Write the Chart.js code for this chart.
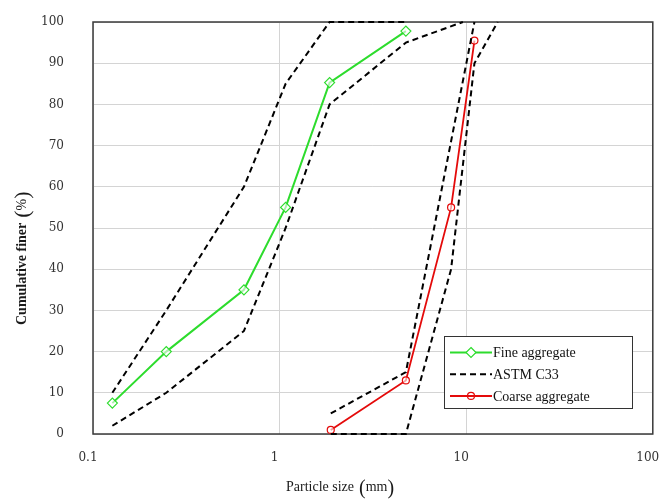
<!DOCTYPE html>
<html>
<head>
<meta charset="utf-8">
<script src="https://cdn.jsdelivr.net/npm/chart.js@4"></script>
<style>
  body { margin: 0; background: #fff; }
</style>
</head>
<body>
<canvas id="myChart" width="659" height="502"></canvas>
<script>
// sieve sizes (mm) and cumulative passing (%)
let fine_sizes = [0.127, 0.247, 0.644, 1.077, 1.853, 4.75]
let fine_passing = [7.5, 20, 35, 55, 85.3, 97.8]

let coarse_sizes = [1.88, 4.75, 8.3, 11.07]
let coarse_passing = [1, 13, 55, 95.5]

// ASTM C33 grading limits
let astm_fine_upper_sizes = [0.127, 0.247, 0.644, 1.077, 1.853, 4.75]
let astm_fine_upper = [10, 30, 60, 85, 100, 100]
let astm_fine_lower_sizes = [0.127, 0.247, 0.644, 1.077, 1.853, 4.75, 9.6]
let astm_fine_lower = [2, 10, 25, 50, 80, 95, 100]
let astm_coarse_upper_sizes = [1.88, 4.75, 11.07]
let astm_coarse_upper = [5, 15, 100]
let astm_coarse_lower_sizes = [1.88, 4.75, 8.3, 11.07, 14.76]
let astm_coarse_lower = [0, 0, 40, 90, 100]

let x_ticks = [0.1, 1, 10, 100]
let y_ticks = [0, 10, 20, 30, 40, 50, 60, 70, 80, 90, 100]

let green = 'rgb(45, 220, 45)'
let red = 'rgb(228, 10, 10)'

function pontos(xs, ys) {
    return xs.map((x, i) => ({ x: x, y: ys[i] }))
}

function astm(xs, ys) {
    return {
        label: 'ASTM C33',
        data: pontos(xs, ys),
        borderColor: '#000',
        borderWidth: 2,
        borderDash: [6, 4],
        pointRadius: 0,
        fill: false,
        clip: false
    }
}

// plot frame drawn under the lines
const moldura = {
    id: 'moldura',
    beforeDatasetsDraw(chart) {
        const a = chart.chartArea
        const c = chart.ctx
        c.save()
        c.strokeStyle = '#3a3a3a'
        c.lineWidth = 1.5
        c.strokeRect(a.left, a.top, a.right - a.left, a.bottom - a.top)
        c.restore()
    }
}

// axis titles with tall brackets
function texto_com_parenteses(c, antes, dentro, tam, tam_par, negrito) {
    let x = 0
    c.font = (negrito ? 'bold ' : '') + tam + 'px "Liberation Serif"'
    c.fillText(antes, x, 0)
    x += c.measureText(antes).width + 5
    c.font = tam_par + 'px "Liberation Serif"'
    c.fillText('(', x, 3)
    x += c.measureText('(').width
    c.font = tam + 'px "Liberation Serif"'
    c.fillText(dentro, x, 0)
    x += c.measureText(dentro).width
    c.font = tam_par + 'px "Liberation Serif"'
    c.fillText(')', x, 3)
}

const titulos = {
    id: 'titulos',
    afterDraw(chart) {
        const c = chart.ctx
        c.save()
        c.fillStyle = '#1a1a1a'
        c.textBaseline = 'alphabetic'
        c.textAlign = 'left'

        c.save()
        c.translate(286, 491)
        texto_com_parenteses(c, 'Particle size', 'mm', 14, 20, false)
        c.restore()

        c.save()
        c.translate(26, 325)
        c.rotate(-Math.PI / 2)
        texto_com_parenteses(c, 'Cumulative finer', '%', 14, 22, true)
        c.restore()

        c.restore()
    }
}

const legenda = {
    id: 'legenda',
    afterDraw(chart) {
        const c = chart.ctx
        const itens = [
            { text: 'Fine aggregate', color: green, dash: [], marker: 'diamond' },
            { text: 'ASTM C33', color: '#000', dash: [6, 4], marker: null },
            { text: 'Coarse aggregate', color: red, dash: [], marker: 'circle' }
        ]
        c.save()
        c.fillStyle = '#fff'
        c.fillRect(444.5, 336.5, 188, 72)
        c.strokeStyle = '#333'
        c.lineWidth = 1
        c.strokeRect(444.5, 336.5, 188, 72)
        itens.forEach((it, i) => {
            const y = 352.5 + i * 21.7
            c.strokeStyle = it.color
            c.lineWidth = 2
            c.setLineDash(it.dash)
            c.beginPath()
            c.moveTo(450, y)
            c.lineTo(492, y)
            c.stroke()
            c.setLineDash([])
            c.lineWidth = 1.2
            if (it.marker == 'diamond') {
                c.beginPath()
                c.moveTo(471, y - 5)
                c.lineTo(476, y)
                c.lineTo(471, y + 5)
                c.lineTo(466, y)
                c.closePath()
                c.fillStyle = '#fff'
                c.fill()
                c.stroke()
            }
            if (it.marker == 'circle') {
                c.beginPath()
                c.arc(471, y, 3.5, 0, Math.PI * 2)
                c.stroke()
            }
            c.fillStyle = '#111'
            c.font = '14px "Liberation Serif"'
            c.textBaseline = 'middle'
            c.fillText(it.text, 493, y + 1)
        })
        c.restore()
    }
}

const ctx = document.getElementById('myChart').getContext('2d')
const myChart = new Chart(ctx, {
    type: 'line',
    data: {
        datasets: [
            {
                label: 'Fine aggregate',
                data: pontos(fine_sizes, fine_passing),
                borderColor: green,
                borderWidth: 2,
                pointStyle: 'rectRot',
                pointRadius: 5,
                pointBorderWidth: 1.2,
                pointBackgroundColor: 'rgba(255,255,255,0.6)',
                pointBorderColor: green,
                clip: false
            },
            astm(astm_fine_upper_sizes, astm_fine_upper),
            astm(astm_fine_lower_sizes, astm_fine_lower),
            astm(astm_coarse_upper_sizes, astm_coarse_upper),
            astm(astm_coarse_lower_sizes, astm_coarse_lower),
            {
                label: 'Coarse aggregate',
                data: pontos(coarse_sizes, coarse_passing),
                borderColor: red,
                borderWidth: 1.8,
                pointStyle: 'circle',
                pointRadius: 3.5,
                pointBorderWidth: 1.2,
                pointBackgroundColor: 'rgba(255,255,255,0.6)',
                pointBorderColor: red,
                clip: false
            }
        ]
    },
    options: {
        responsive: false,
        animation: false,
        layout: { padding: { top: 22, right: 6, left: 0, bottom: 0 } },
        plugins: {
            legend: { display: false },
            tooltip: { enabled: false }
        },
        scales: {
            x: {
                type: 'logarithmic',
                min: 0.1,
                max: 100,
                afterBuildTicks: (scale) => {
                    scale.ticks = x_ticks.map(v => ({ value: v }))
                },
                afterFit: (scale) => {
                    scale.height = 68
                    scale.paddingLeft = 0
                    scale.paddingRight = 0
                },
                ticks: {
                    callback: (v) => String(v),
                    autoSkip: false,
                    maxRotation: 0,
                    padding: 17,
                    labelOffset: -5,
                    color: '#333',
                    font: { family: '"DejaVu Serif"', size: 12 }
                },
                grid: { color: '#d4d4d4', lineWidth: 1, drawTicks: false },
                border: { display: false }
            },
            y: {
                min: 0,
                max: 100,
                afterBuildTicks: (scale) => {
                    scale.ticks = y_ticks.map(v => ({ value: v }))
                },
                afterFit: (scale) => {
                    scale.width = 93
                    scale.paddingTop = 0
                    scale.paddingBottom = 0
                },
                ticks: {
                    padding: 29,
                    color: '#333',
                    font: { family: '"DejaVu Serif"', size: 12 }
                },
                grid: { color: '#d4d4d4', lineWidth: 1, drawTicks: false },
                border: { display: false }
            }
        }
    },
    plugins: [moldura, titulos, legenda]
})
</script>
</body>
</html>
